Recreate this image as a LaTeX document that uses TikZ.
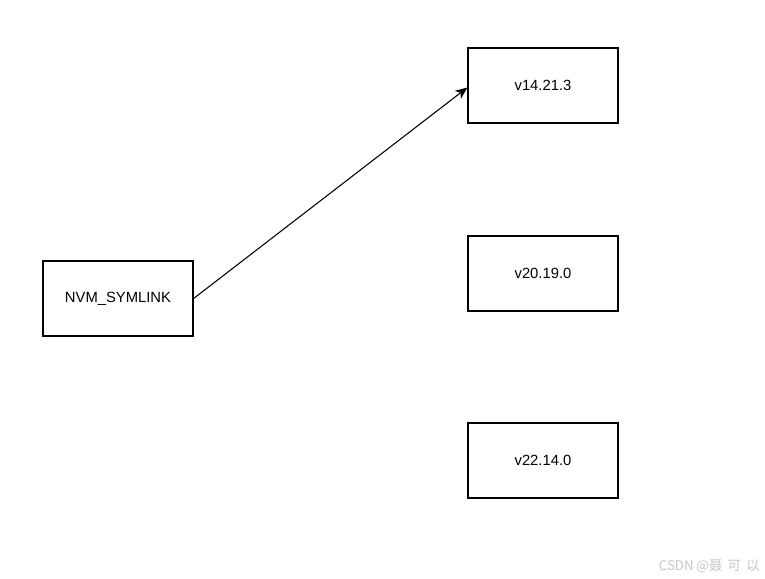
\documentclass[tikz,border=0pt]{standalone}
\usepackage{fontspec}
\setmainfont{Liberation Sans}
\newfontfamily\cjk{Noto Sans CJK SC}
\usetikzlibrary{arrows.meta}
\begin{document}
\begin{tikzpicture}[x=0.75pt,y=-0.75pt,
  box/.style={draw=black,line width=0.9pt,fill=white,minimum width=150*0.75pt,minimum height=75*0.75pt,inner sep=0pt,font=\fontsize{11.1}{13}\selectfont},
  link/.style={draw=black,line width=0.8pt,-{Stealth[length=9pt,width=7.5pt,inset=2.5pt]}}]
\useasboundingbox (0,0) rectangle (765,579);
\node[box] (sym) at (118,298.5) {NVM\_SYMLINK};
\node[box] (v14) at (543,85.5) {v14.21.3};
\node[box] (v20) at (543,273.5) {v20.19.0};
\node[box] (v22) at (543,460.5) {v22.14.0};
\draw[link] (sym.east) -- ([yshift=-1.5pt]v14.west);
\node[anchor=east,text=black!22,font=\cjk\fontsize{10}{11}\selectfont,inner sep=0pt] (wm) at (760,566) {CSDN\hspace{2pt}@聂\hspace{4pt}可\hspace{4pt}以};
\end{tikzpicture}
\end{document}
